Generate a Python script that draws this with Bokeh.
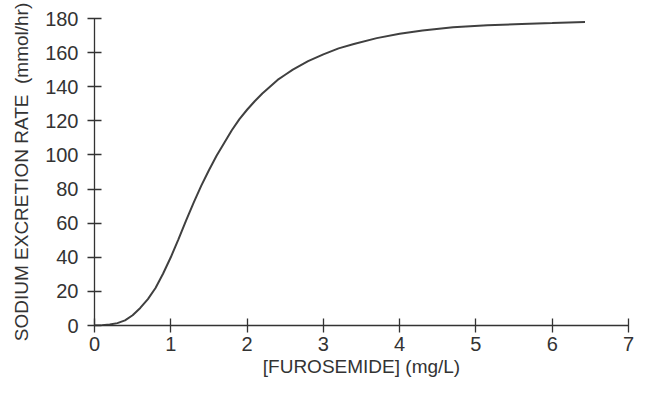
from bokeh.plotting import figure
from bokeh.models import Range1d, FixedTicker
from bokeh.embed import file_html
from bokeh.resources import INLINE

# Data
furosemide = [0, 0.1, 0.2, 0.3, 0.4, 0.5, 0.6, 0.7, 0.8, 0.9, 1.0, 1.1, 1.2, 1.3,
              1.4, 1.5, 1.6, 1.7, 1.8, 1.9, 2.0, 2.1, 2.2, 2.3, 2.4, 2.5, 2.6, 2.8,
              3.0, 3.2, 3.4, 3.7, 4.0, 4.3, 4.7, 5.15, 5.6, 6.0, 6.43]
sodium_rate = [0, 0.2, 0.6, 1.4, 3.0, 6.0, 10.3, 15.5, 22, 30.5, 40, 50.5, 61.5, 72,
               82, 91, 99.5, 107, 114.5, 121, 126.5, 131.5, 136, 140, 144, 147, 150, 155,
               159, 162.5, 165, 168.5, 171, 173, 174.8, 176, 176.8, 177.3, 178]
x_ticks = [0, 1, 2, 3, 4, 5, 6, 7]
y_ticks = [0, 20, 40, 60, 80, 100, 120, 140, 160, 180]

TEXT = "#333333"
FONT = "Liberation Sans"

p = figure(width=635, height=379, output_backend="svg", toolbar_location=None,
           x_range=Range1d(0, 7), y_range=Range1d(0, 180),
           min_border_left=94, min_border_top=18, min_border_right=7,
           min_border_bottom=50)
p.outline_line_color = None
p.xgrid.visible = False
p.ygrid.visible = False
p.background_fill_color = "white"
p.border_fill_color = "white"

p.line(furosemide, sodium_rate, line_color="#404040", line_width=2)

for ax in (p.xaxis[0], p.yaxis[0]):
    ax.axis_line_color = TEXT
    ax.axis_line_width = 1.3
    ax.major_tick_line_color = TEXT
    ax.major_tick_line_width = 1.3
    ax.major_tick_in = 7
    ax.major_tick_out = 7
    ax.minor_tick_line_color = None
    ax.major_label_text_font = FONT
    ax.major_label_text_font_size = "20px"
    ax.major_label_text_color = TEXT
    ax.axis_label_text_font = FONT
    ax.axis_label_text_font_size = "19px"
    ax.axis_label_text_font_style = "normal"
    ax.axis_label_text_color = TEXT

p.xaxis.ticker = FixedTicker(ticks=x_ticks)
p.yaxis.ticker = FixedTicker(ticks=y_ticks)
p.xaxis.axis_label = "[FUROSEMIDE] (mg/L)"
p.yaxis.axis_label = "SODIUM EXCRETION RATE \u00a0(mmol/hr)"
p.xaxis.major_label_standoff = 4
p.xaxis.axis_label_standoff = 2
p.yaxis.major_label_standoff = 9
p.yaxis.axis_label_standoff = 10

open("out.html", "w").write(file_html(p, INLINE))
